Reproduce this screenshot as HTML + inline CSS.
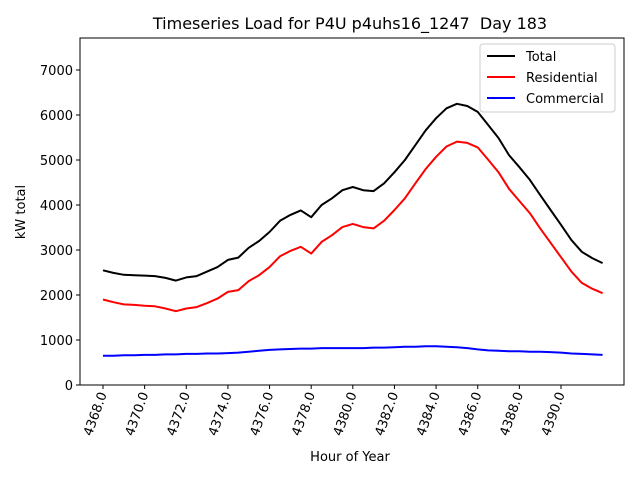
<!DOCTYPE html>
<html><head><meta charset="utf-8"><style>
body{margin:0;background:#fff}
svg{font-family:"DejaVu Sans","Liberation Sans",sans-serif}
</style></head><body>
<svg width="640" height="480">
<g id="root"></g>
</svg>
<script>
const hours=[];for(let i=0;i<49;i++)hours.push(4368+i*0.5);
const totalVals=[2550,2490,2450,2440,2430,2420,2380,2320,2390,2420,2520,2620,2780,2830,3050,3200,3400,3650,3780,3880,3730,4000,4150,4330,4400,4330,4310,4480,4730,5000,5330,5660,5930,6150,6250,6200,6070,5780,5490,5110,4840,4560,4220,3890,3560,3220,2960,2820,2710];
const resVals=[1900,1840,1790,1780,1760,1750,1700,1640,1700,1730,1820,1920,2070,2110,2310,2440,2620,2860,2980,3070,2920,3180,3330,3510,3580,3510,3480,3650,3890,4150,4480,4800,5070,5300,5410,5380,5280,5010,4730,4360,4090,3820,3480,3160,2840,2520,2270,2140,2040];
const comVals=[650,650,660,660,670,670,680,680,690,690,700,700,710,720,740,760,780,790,800,810,810,820,820,820,820,820,830,830,840,850,850,860,860,850,840,820,790,770,760,750,750,740,740,730,720,700,690,680,670];
const xTicks=[4368,4370,4372,4374,4376,4378,4380,4382,4384,4386,4388,4390];
const yTicks=[0,1000,2000,3000,4000,5000,6000,7000];
const L=80,R=624,T=38,B=385;
const x=h=>103+(h-4368)*20.818;
const y=v=>385-v*0.045;
const NS="http://www.w3.org/2000/svg";
const root=document.getElementById('root');
function mk(t,a,p){const e=document.createElementNS(NS,t);for(const k in a)e.setAttribute(k,a[k]);(p||root).appendChild(e);return e;}
const frame=mk('rect',{x:L,y:T,width:R-L,height:B-T,fill:'none',stroke:'#000','stroke-width':1});


xTicks.forEach(t=>{
 const px=x(t);
 const tk=mk('line',{x1:px,x2:px,y1:B,y2:B+4,stroke:'#000'});
 
 
 const lb=mk('text',{x:px+4,y:B+9,'font-size':13,'text-anchor':'end',transform:`rotate(-70 ${px+4} ${B+9})`});
 lb.textContent=t.toFixed(1);
 
 
});
yTicks.forEach(t=>{
 const py=y(t);
 const tk=mk('line',{x1:L-4,x2:L,y1:py,y2:py,stroke:'#000'});
 
 
 const lb=mk('text',{x:L-7,y:py+5,'font-size':13,'text-anchor':'end'});
 lb.textContent=t;
 
 
});
function series(vals,color,name){
 const d=vals.map((v,i)=>(i?'L':'M')+x(hours[i]).toFixed(1)+','+y(v).toFixed(1)).join('');
 const p=mk('path',{d:d,fill:'none',stroke:color,'stroke-width':2,'stroke-linejoin':'round'});
 
 
}
series(comVals,'#0000ff','commercial-line');
series(resVals,'#ff0000','residential-line');
series(totalVals,'#000000','total-line');
const title=mk('text',{x:350,y:29,'font-size':16,'text-anchor':'middle','xml:space':'preserve',style:'white-space:pre'});
title.textContent='Timeseries Load for P4U p4uhs16_1247  Day 183';


const xt=mk('text',{x:350,y:461,'font-size':13,'text-anchor':'middle'});
xt.textContent='Hour of Year';


const yt=mk('text',{x:25,y:212,'font-size':13,'text-anchor':'middle',transform:'rotate(-90 25 212)'});
yt.textContent='kW total';


const lg=mk('g',{});


mk('rect',{x:480,y:44,width:135,height:68,rx:3,fill:'#fff',stroke:'#ccc'},lg);
[['Total','#000'],['Residential','#f00'],['Commercial','#00f']].forEach((e,i)=>{
 const yy=56+i*21;
 const ln=mk('line',{x1:487,x2:515,y1:yy,y2:yy,stroke:e[1],'stroke-width':2},lg);
 
 
 const tx=mk('text',{x:526,y:yy+5,'font-size':13},lg);
 tx.textContent=e[0];
 
 
});
</script>
</body></html>
